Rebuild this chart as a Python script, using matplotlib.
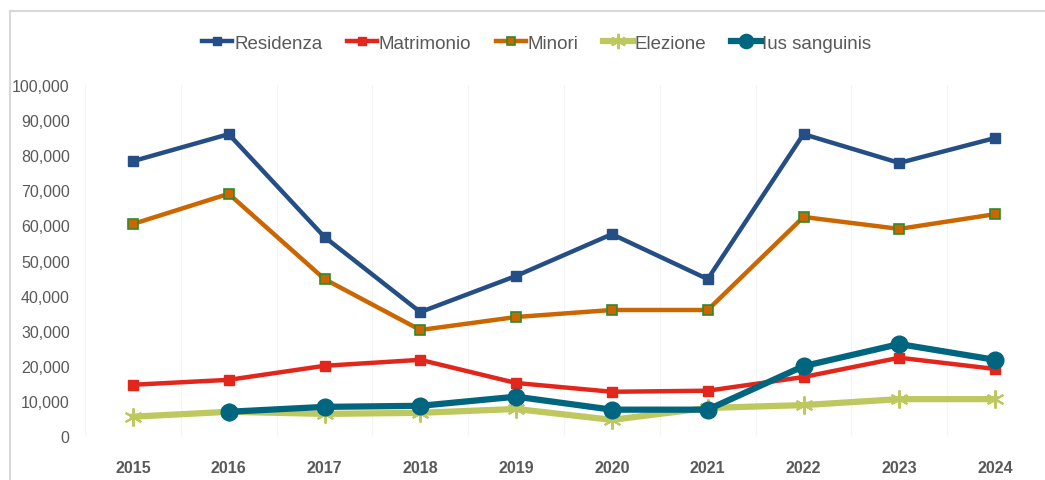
import numpy as np
import matplotlib
matplotlib.use('Agg')
import matplotlib.pyplot as plt
from matplotlib.ticker import FuncFormatter

anni = ['2015', '2016', '2017', '2018', '2019', '2020', '2021', '2022', '2023', '2024']
residenza = [78300, 86000, 56700, 35300, 45600, 57500, 44700, 86000, 77800, 84900]
matrimonio = [14600, 16000, 20000, 21700, 15100, 12600, 12900, 16800, 22300, 19100]
minori = [60400, 69000, 44700, 30200, 33900, 35900, 35900, 62400, 59000, 63200]
elezione = [5500, 6900, 6300, 6600, 7700, 4600, 8000, 8800, 10500, 10500]
ius_sanguinis = [np.nan, 6900, 8300, 8600, 11200, 7500, 7500, 19900, 26200, 21700]

plt.rcParams['font.family'] = ['Liberation Sans Narrow', 'Liberation Sans', 'DejaVu Sans']

fig = plt.figure(figsize=(10.45, 4.81), dpi=100)
ax = fig.add_axes([85 / 1045, 1 - 437 / 481, 958 / 1045, 351 / 481])

x = np.arange(len(anni))
ax.plot(x, residenza, color='#254E86', lw=3.2, marker='s', ms=7, label='Residenza', zorder=3)
ax.plot(x, matrimonio, color='#E3261C', lw=3.2, marker='s', ms=7, label='Matrimonio', zorder=3)
ax.plot(x, minori, color='#CC6600', lw=3.2, marker='s', ms=7, mfc='#CC6600', mec='#2E8B2E',
        mew=1.2, label='Minori', zorder=3)
ax.plot(x, elezione, color='#BDC85E', lw=4.5, marker=(6, 2, 0), ms=13, mew=1.5,
        label='Elezione', zorder=2)
ax.plot(x, ius_sanguinis, color='#00667F', lw=4.5, marker='o', ms=12, label='Ius sanguinis', zorder=4)

ax.set_xlim(-0.5, len(anni) - 0.5)
ax.set_ylim(0, 100000)
ax.set_yticks(np.arange(0, 100001, 10000))
ax.yaxis.set_major_formatter(FuncFormatter(lambda v, p: f'{int(v):,}'))
ax.set_xticks(x)
ax.set_xticklabels(anni, fontweight='bold')
ax.set_xticks(np.arange(-0.5, len(anni), 1), minor=True)
ax.grid(axis='x', which='minor', color='#f5f5f5', lw=0.8)
ax.tick_params(axis='y', length=0, pad=11, labelsize=11.5, labelcolor='#595959')
ax.tick_params(axis='x', which='major', length=0, pad=17, labelsize=11.5, labelcolor='#595959')
ax.tick_params(axis='x', which='minor', length=0)
for s in ax.spines.values():
    s.set_visible(False)

leg = fig.legend(loc='center', bbox_to_anchor=(537 / 1045, 1 - 44 / 481), ncol=5, frameon=False,
                 fontsize=13.5, handlelength=1.6, handletextpad=0.1, columnspacing=1.3,
                 labelcolor='#595959', markerscale=0.85)

# cornice del grafico
fig.add_artist(plt.Line2D([10 / 1045, 10 / 1045], [0, 1 - 12 / 481], color='#d9d9d9', lw=1.5))
fig.add_artist(plt.Line2D([10 / 1045, 1], [1 - 12 / 481, 1 - 12 / 481], color='#d9d9d9', lw=1.5))

fig.savefig('out.png', dpi=100)
